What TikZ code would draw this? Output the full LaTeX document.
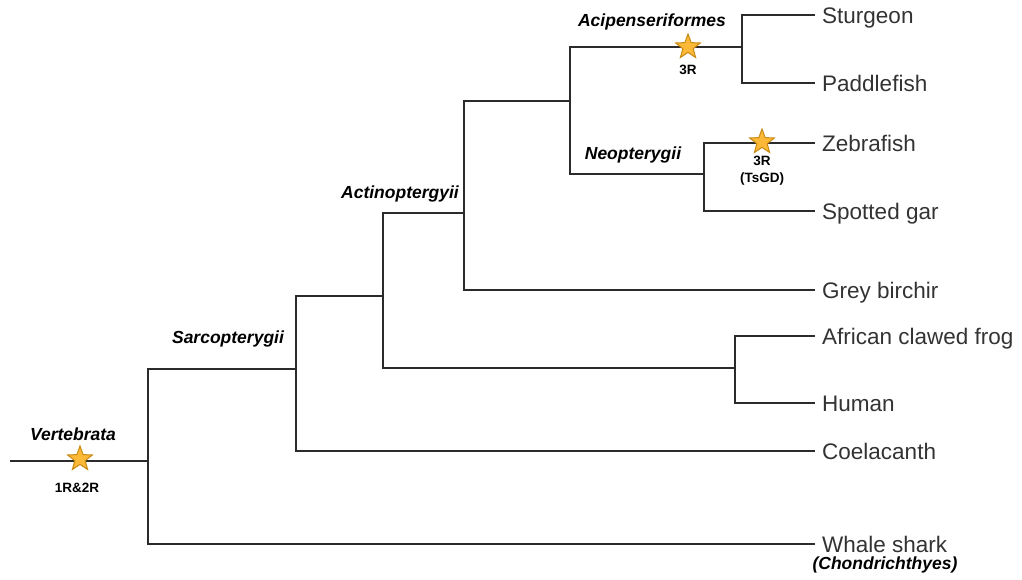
\documentclass[tikz,border=0pt]{standalone}
\usepackage{fontspec}
\setmainfont{Liberation Sans}
\usetikzlibrary{shapes.geometric}
\definecolor{ln}{HTML}{2B2B2B}
\definecolor{txt}{HTML}{333333}
\definecolor{starfill}{HTML}{FBB937}
\definecolor{stardraw}{HTML}{C98A14}
\tikzset{
  branch/.style={draw=ln, line width=2.9pt},
  leaf/.style={anchor=west, inner xsep=7pt, inner ysep=0pt, text height=16pt, text depth=0pt, font=\fontsize{22.5}{26}\selectfont, text=txt},
  clade/.style={font=\fontsize{17.5}{20}\selectfont\bfseries\itshape, text=black, inner sep=0pt},
  event/.style={font=\fontsize{13.5}{17}\selectfont\bfseries, text=black, align=center, inner sep=0pt},
  dup/.style={star, star points=5, star point ratio=2.4, draw=stardraw, fill=starfill, line width=1pt, minimum size=26pt, inner sep=0pt},
}
\begin{document}
\begin{tikzpicture}[x=1pt,y=-1pt]
\useasboundingbox (0,0) rectangle (1022,579);
% internal vertices
\coordinate (r0) at (10,461);
\coordinate (vert) at (148,461);
\coordinate (sarc) at (296,369);
\coordinate (ost) at (383,296);
\coordinate (actino) at (464,213);
\coordinate (chond) at (570,101);
\coordinate (acip) at (742,47);
\coordinate (neo) at (704,174);
\coordinate (tetra) at (735,368);
% leaves
\node[leaf] (sturgeon) at (815,15) {Sturgeon};
\node[leaf] (paddle) at (815,83) {Paddlefish};
\node[leaf] (zebra) at (815,143) {Zebrafish};
\node[leaf] (gar) at (815,211) {Spotted gar};
\node[leaf] (birchir) at (815,290) {Grey birchir};
\node[leaf] (frog) at (815,336) {African clawed frog};
\node[leaf] (human) at (815,403) {Human};
\node[leaf] (coel) at (815,451) {Coelacanth};
\node[leaf] (whale) at (815,544) {Whale shark};
% branches
\draw[branch] (r0) -- (vert);
\draw[branch] (vert) |- (sarc);
\draw[branch] (vert) |- (whale.west);
\draw[branch] (sarc) |- (ost);
\draw[branch] (sarc) |- (coel.west);
\draw[branch] (ost) |- (actino);
\draw[branch] (ost) |- (tetra);
\draw[branch] (actino) |- (chond);
\draw[branch] (actino) |- (birchir.west);
\draw[branch] (chond) |- (acip);
\draw[branch] (chond) |- (neo);
\draw[branch] (acip) |- (sturgeon.west);
\draw[branch] (acip) |- (paddle.west);
\draw[branch] (neo) |- (zebra.west);
\draw[branch] (neo) |- (gar.west);
\draw[branch] (tetra) |- (frog.west);
\draw[branch] (tetra) |- (human.west);
% clade labels
\node[clade] (lvert) at (73,434) {Vertebrata};
\node[clade] (lsarc) at (228,339) {Sarcopterygii};
\node[clade] (lact) at (400,194) {Actinoptergyii};
\node[clade] (lacip) at (652,22) {Acipenseriformes};
\node[clade] (lneo) at (633,155) {Neopterygii};
\node[clade] (lchond) at (885,565) {(Chondrichthyes)};
% duplication events
\node[dup] (s1) at (80,459) {};
\node[event] (e1) at (77,488) {1R\&2R};
\node[dup] (s2) at (688,47) {};
\node[event] (e2) at (688,70) {3R};
\node[dup] (s3) at (762,142) {};
\node[event] (e3) at (762,171) {3R\\(TsGD)};
\end{tikzpicture}
\end{document}
